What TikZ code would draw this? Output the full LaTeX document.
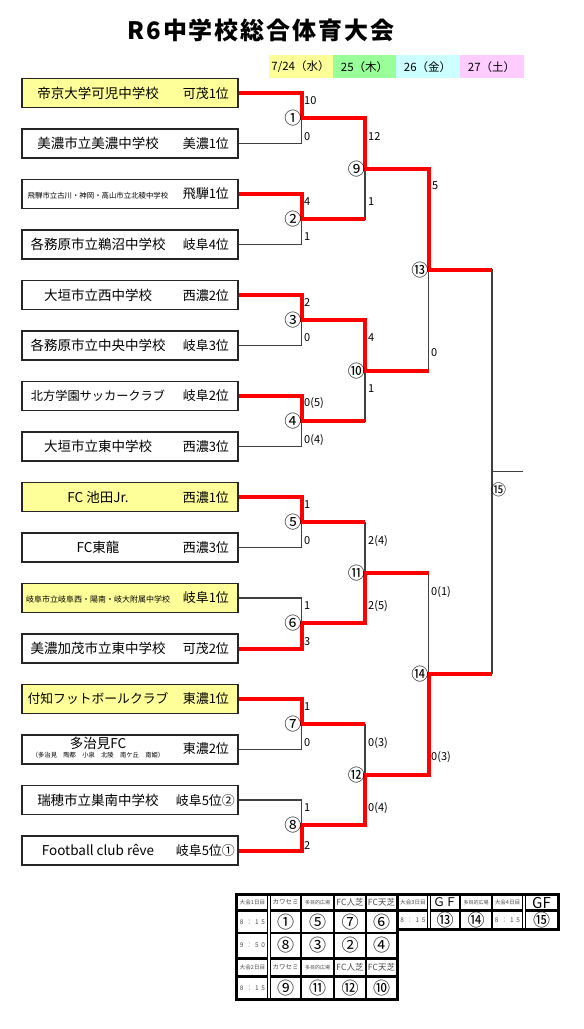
\documentclass[tikz,border=0pt]{standalone}
\usepackage{fontspec}
\setmainfont{Noto Sans CJK JP}
\newfontfamily\spacedfont{Noto Sans CJK JP}[LetterSpace=40]
\usepackage{xcolor}
\definecolor{pale}{HTML}{FFFF99}
\definecolor{dgreen}{HTML}{99FF99}
\definecolor{dcyan}{HTML}{CCFFFF}
\definecolor{dpink}{HTML}{FFCCFF}
\usepackage{tikz}

\newcommand{\team}[3][134pt]{\makebox[#1]{\fontsize{13.5}{15}\selectfont #2}\makebox[64pt][r]{\fontsize{13}{15}\selectfont #3}}
\newcommand{\hdfont}{\fontsize{5.6}{6}\selectfont}
\newcommand{\fcfont}{\fontsize{8.5}{9}\selectfont}
\newcommand{\numfont}{\fontsize{17}{17}\selectfont\color{black}}
\newcommand{\timefont}{\spacedfont\fontsize{6.5}{7}\selectfont}

\begin{document}
\begin{tikzpicture}[
  x=1pt, y=-1pt,
  team/.style={draw=black!85, line width=1.1pt, minimum width=216pt, minimum height=29pt, inner sep=0pt},
  day/.style={minimum width=64pt, minimum height=23pt, inner sep=0pt, font=\fontsize{11.5}{12}\selectfont},
  conn/.style={draw=black!75, line width=1.3pt},
  win/.style={draw=red, line width=4pt},
  mno/.style={anchor=east, inner sep=0pt, font=\fontsize{17}{17}\selectfont},
  score/.style={anchor=west, inner sep=0pt, font=\fontsize{11}{12}\selectfont},
  cell/.style={fill=white, inner sep=0pt, text=black!70}
]
\useasboundingbox (0,0) rectangle (584,1029);

% Title and days
\node[font=\bfseries\fontsize{24}{24}\selectfont\addfontfeatures{LetterSpace=8}] (title) at (261,30) {R6中学校総合体育大会};
\node[day, fill=pale] (d1) at (300.5,66.7) {7/24（水）};
\node[day, fill=dgreen] (d2) at (364.5,66.7) {25（木）};
\node[day, fill=dcyan] (d3) at (427.5,66.7) {26（金）};
\node[day, fill=dpink] (d4) at (491.5,66.7) {27（土）};

% Teams
\node[team, fill=pale] (t1) at (130,93) {\team{帝京大学可児中学校}{可茂1位}};
\node[team] (t2) at (130,143.5) {\team{美濃市立美濃中学校}{美濃1位}};
\node[team] (t3) at (130,194) {\team{\fontsize{7.4}{8}\selectfont 飛騨市立古川・神岡・高山市立北稜中学校}{飛騨1位}};
\node[team] (t4) at (130,244.5) {\team{各務原市立鵜沼中学校}{岐阜4位}};
\node[team] (t5) at (130,295) {\team{大垣市立西中学校}{西濃2位}};
\node[team] (t6) at (130,345.5) {\team{各務原市立中央中学校}{岐阜3位}};
\node[team] (t7) at (130,396) {\team{\fontsize{12.2}{15}\selectfont 北方学園サッカークラブ}{岐阜2位}};
\node[team] (t8) at (130,446.5) {\team{大垣市立東中学校}{西濃3位}};
\node[team, fill=pale] (t9) at (130,497) {\team{FC 池田Jr.}{西濃1位}};
\node[team] (t10) at (130,547.5) {\team{FC東龍}{西濃3位}};
\node[team, fill=pale] (t11) at (130,598) {\team{\fontsize{8}{9}\selectfont 岐阜市立岐阜西・陽南・岐大附属中学校}{岐阜1位}};
\node[team] (t12) at (130,648.5) {\team{美濃加茂市立東中学校}{可茂2位}};
\node[team, fill=pale] (t13) at (130,699) {\team{\fontsize{12.8}{15}\selectfont 付知フットボールクラブ}{東濃1位}};
\node[team] (t14) at (130,749.5) {\team{\begin{tabular}{@{}c@{}}多治見FC\\[-6pt]{\fontsize{6.3}{7}\selectfont （多治見　陶都　小泉　北陵　南ケ丘　南姫）}\end{tabular}}{東濃2位}};
\node[team] (t15) at (130,800) {\team[146pt]{瑞穂市立巣南中学校}{岐阜5位②}};
\node[team] (t16) at (130,850.5) {\team[146pt]{Football club rêve}{岐阜5位①}};

% Matches
\coordinate (m1) at (301.5,118.25);
\coordinate (m2) at (301.5,219.25);
\coordinate (m3) at (301.5,320.25);
\coordinate (m4) at (301.5,421.25);
\coordinate (m5) at (301.5,522.25);
\coordinate (m6) at (301.5,623.25);
\coordinate (m7) at (301.5,724.25);
\coordinate (m8) at (301.5,825.25);
\coordinate (m9) at (365,168.75);
\coordinate (m10) at (365,370.75);
\coordinate (m11) at (365,572.75);
\coordinate (m12) at (365,774.75);
\coordinate (m13) at (428.5,269.75);
\coordinate (m14) at (428.5,673.75);
\coordinate (m15) at (492,471.75);
\coordinate (champ) at (523,471.75);

% Pointers
\foreach \a/\b in {t1/m1, t2/m1, t3/m2, t4/m2, t5/m3, t6/m3, t7/m4, t8/m4,
                   t9/m5, t10/m5, t11/m6, t12/m6, t13/m7, t14/m7, t15/m8, t16/m8}
  \draw[conn] (\a.east) -| (\b);
\foreach \a/\b in {m1/m9, m2/m9, m3/m10, m4/m10, m5/m11, m6/m11, m7/m12, m8/m12,
                   m9/m13, m10/m13, m11/m14, m12/m14, m13/m15, m14/m15}
  \draw[conn] (\a) -| (\b);
\draw[conn] (m15) -- (champ);

% Winners
\draw[win] (t1.east) -| (m1) -| (m9) -| (m13) -- (m13 -| m15);
\draw[win] (t3.east) -| (m2) -- (m2 -| m9);
\draw[win] (t5.east) -| (m3) -| (m10) -- (m10 -| m13);
\draw[win] (t7.east) -| (m4) -- (m4 -| m10);
\draw[win] (t9.east) -| (m5) -- (m5 -| m11);
\draw[win] (t12.east) -| (m6) -| (m11) -- (m11 -| m14);
\draw[win] (t13.east) -| (m7) -- (m7 -| m12);
\draw[win] (t16.east) -| (m8) -| (m12) -| (m14) -- (m14 -| m15);

% Match numbers
\foreach \k/\c in {1/①, 2/②, 3/③, 4/④, 5/⑤, 6/⑥, 7/⑦, 8/⑧, 9/⑨, 10/⑩, 11/⑪, 12/⑫, 13/⑬, 14/⑭}
  \node[mno] (n\k) at (m\k) {\c};
\node[mno, anchor=west, font=\fontsize{15}{15}\selectfont] (n15) at (491,490) {⑮};

% Scores
\foreach \x/\y/\s [count=\k] in {304/101/10, 304/137/0, 368/137/12, 304/202/4, 368/202/1, 304/237/1,
    432/186/5, 304/303/2, 304/338/0, 368/338/4, 431/353/0, 368/389/1, 304/403/0(5), 304/440/0(4),
    304/505/1, 304/541/0, 368/541/2(4), 431/592/0(1), 304/606/1, 368/606/2(5), 304/642/3,
    304/707/1, 304/743/0, 368/743/0(3), 431/757/0(3), 304/808/1, 368/808/0(4), 304/845/2}
  \node[score] (s\k) at (\x,\y) {\s};

% Schedule
\fill[black] (235,893) rectangle (399,1001);
\fill[black] (399,893) rectangle (560,931);
\foreach \x/\w/\t [count=\k] in {252.5/29/{\hdfont 大会1日目}, 285.5/29/{\fontsize{6.5}{7}\selectfont カワセミ},
    317.5/31/{\fontsize{5}{6}\selectfont 多目的広場}, 350/30/{\fcfont FC人芝}, 381.5/29/{\fcfont FC天芝}}
  \node[cell, minimum width=\w pt, minimum height=13pt] (a\k) at (\x,902.5) {\t};
\foreach \x/\w/\t [count=\k] in {252.5/29/{\timefont 8：15}, 285.5/29/{\numfont ①},
    317.5/31/{\numfont ⑤}, 350/30/{\numfont ⑦}, 381.5/29/{\numfont ⑥}}
  \node[cell, minimum width=\w pt, minimum height=20pt] (b\k) at (\x,922) {\t};
\foreach \x/\w/\t [count=\k] in {252.5/29/{\timefont 9：50}, 285.5/29/{\numfont ⑧},
    317.5/31/{\numfont ③}, 350/30/{\numfont ②}, 381.5/29/{\numfont ④}}
  \node[cell, minimum width=\w pt, minimum height=23pt] (c\k) at (\x,945.5) {\t};
\foreach \x/\w/\t [count=\k] in {252.5/29/{\hdfont 大会2日目}, 285.5/29/{\fontsize{6.5}{7}\selectfont カワセミ},
    317.5/31/{\fontsize{5}{6}\selectfont 多目的広場}, 350/30/{\fcfont FC人芝}, 381.5/29/{\fcfont FC天芝}}
  \node[cell, minimum width=\w pt, minimum height=15pt] (d\k) at (\x,967.5) {\t};
\foreach \x/\w/\t [count=\k] in {252.5/29/{\timefont 8：15}, 285.5/29/{\numfont ⑨},
    317.5/31/{\numfont ⑪}, 350/30/{\numfont ⑫}, 381.5/29/{\numfont ⑩}}
  \node[cell, minimum width=\w pt, minimum height=20pt] (e\k) at (\x,988) {\t};
\foreach \x/\w/\t [count=\k] in {413/28/{\hdfont 大会3日目}, 445/28/{\fontsize{12}{12}\selectfont\color{black}ＧＦ},
    476/30/{\fontsize{5}{6}\selectfont 多目的広場}, 507.5/29/{\hdfont 大会4日目}, 541.5/31/{\fontsize{15}{15}\selectfont\color{black}GF}}
  \node[cell, minimum width=\w pt, minimum height=13pt] (f\k) at (\x,902.5) {\t};
\foreach \x/\w/\t [count=\k] in {413/28/{\timefont 8：15}, 445/28/{\numfont ⑬},
    476/30/{\numfont ⑭}, 507.5/29/{\timefont 8：15}, 541.5/31/{\numfont ⑮}}
  \node[cell, minimum width=\w pt, minimum height=16pt] (g\k) at (\x,920) {\t};
\fill[white] (268.4,896) rectangle (269.6,998);
\fill[white] (428.4,896) rectangle (429.6,928);
\fill[white] (523.4,896) rectangle (524.6,928);
\end{tikzpicture}
\end{document}
